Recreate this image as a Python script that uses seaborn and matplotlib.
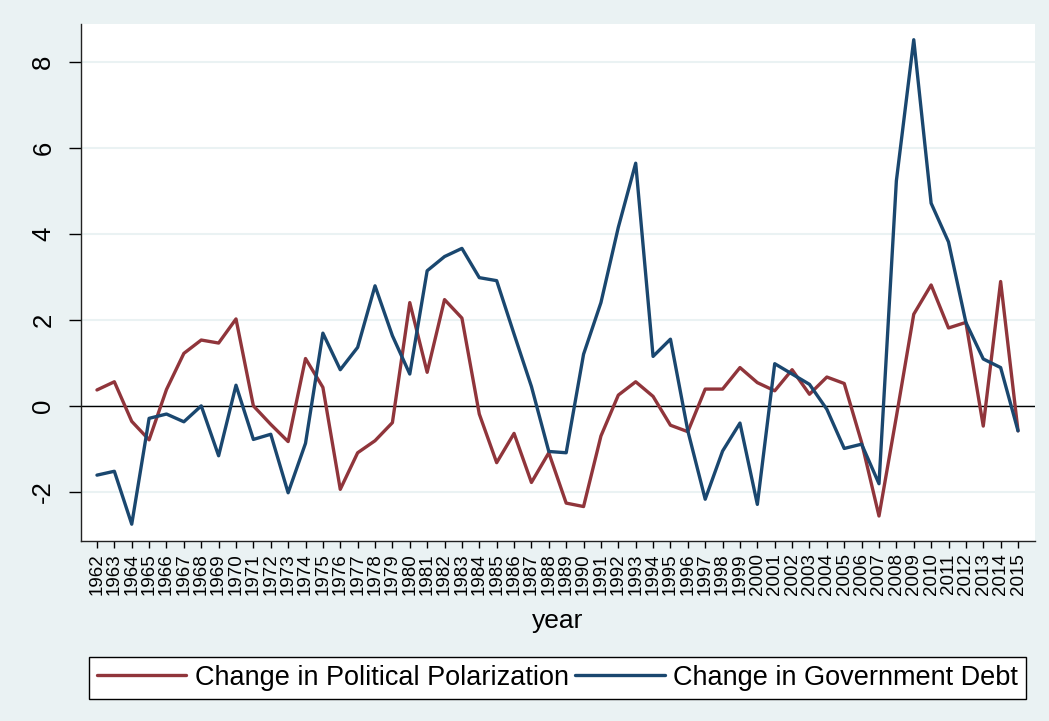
import matplotlib
matplotlib.use("Agg")
import matplotlib.pyplot as plt
import seaborn as sns
import pandas as pd
import numpy as np

years = list(range(1962, 2016))

polarization = [0.37, 0.56, -0.36, -0.79, 0.38, 1.22, 1.53, 1.46, 2.02, 0.00,
                -0.43, -0.83, 1.10, 0.43, -1.94, -1.09, -0.81, -0.39, 2.40, 0.78,
                2.47, 2.04, -0.19, -1.32, -0.64, -1.78, -1.09, -2.26, -2.34, -0.70,
                0.25, 0.56, 0.22, -0.45, -0.60, 0.39, 0.39, 0.89, 0.54, 0.35,
                0.84, 0.27, 0.67, 0.52, -0.85, -2.56, -0.25, 2.13, 2.81, 1.81,
                1.94, -0.47, 2.89, -0.58]

debt = [-1.61, -1.52, -2.75, -0.29, -0.19, -0.37, 0.00, -1.16, 0.48, -0.78,
        -0.66, -2.02, -0.87, 1.69, 0.84, 1.36, 2.79, 1.63, 0.74, 3.14,
        3.47, 3.66, 2.98, 2.91, 1.67, 0.45, -1.06, -1.09, 1.20, 2.40,
        4.15, 5.64, 1.15, 1.55, -0.58, -2.17, -1.05, -0.40, -2.29, 0.98,
        0.74, 0.50, -0.08, -0.99, -0.89, -1.81, 5.23, 8.51, 4.71, 3.81,
        1.94, 1.09, 0.89, -0.58]

series_names = ["Change in Political Polarization", "Change in Government Debt"]
colors = ["#90353B", "#1A476F"]
yticks = [-2, 0, 2, 4, 6, 8]

df = pd.DataFrame({
    "year": years * 2,
    "value": polarization + debt,
    "series": [series_names[0]] * len(years) + [series_names[1]] * len(years),
})

sns.set_theme(style="white")
plt.rcParams["font.family"] = ["Liberation Sans", "DejaVu Sans"]
plt.rcParams["text.color"] = "black"
plt.rcParams["axes.labelcolor"] = "black"
plt.rcParams["xtick.color"] = "black"
plt.rcParams["ytick.color"] = "black"

bg = "#EAF2F3"
fig = plt.figure(figsize=(10.49, 7.21), dpi=100, facecolor=bg)
ax = fig.add_axes([0.0772, 0.2497, 0.9095, 0.7173])
ax.set_facecolor("white")

for y in yticks:
    ax.axhline(y, color=bg, lw=1.5, zorder=0)
ax.axhline(0, color="black", lw=1.0, zorder=1)

sns.lineplot(data=df, x="year", y="value", hue="series", hue_order=series_names,
             palette=colors, lw=2.4, ax=ax, legend=False, zorder=3)

ax.set_xlim(1961.08, 2015.98)
ax.set_ylim(-3.14, 8.88)
ax.set_xticks(years)
ax.set_xticklabels([str(y) for y in years], rotation=90, fontsize=13.5)
ax.set_yticks(yticks)
ax.set_yticklabels([str(y) for y in yticks], rotation=90, va="center", fontsize=18.5)
ax.tick_params(axis="x", direction="out", length=5, width=1, colors="black", pad=4, bottom=True)
ax.tick_params(axis="y", direction="out", length=8.5, width=1, colors="black", pad=10, left=True)
ax.set_xlabel("year", fontsize=19, labelpad=10, color="black")
ax.set_ylabel("")

for s in ["top", "right"]:
    ax.spines[s].set_visible(False)
for s in ["left", "bottom"]:
    ax.spines[s].set_color("#222222")
    ax.spines[s].set_linewidth(1.0)

handles = [plt.Line2D([], [], color=c, lw=2.4) for c in colors]
leg = fig.legend(handles, series_names, loc="lower left",
                 bbox_to_anchor=(0.0848, 0.0305, 0.8932, 0.0652), mode="expand",
                 ncol=2, fontsize=19.5, frameon=True, fancybox=False,
                 edgecolor="black", facecolor="white", framealpha=1,
                 handlelength=3.3, handletextpad=0.3, borderpad=0.3, borderaxespad=0)
leg.get_frame().set_linewidth(1.0)
for t in leg.get_texts():
    t.set_color("black")

fig.savefig("out.png", dpi=100, facecolor=bg)
